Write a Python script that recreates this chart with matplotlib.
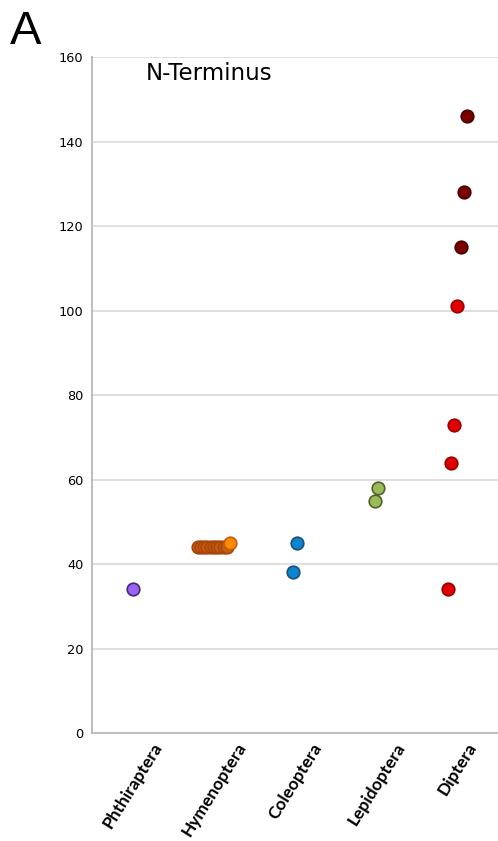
import matplotlib
matplotlib.use('Agg')
import matplotlib.pyplot as plt
import numpy as np

# Daten: Länge N-Terminus je Ordnung
categories = ['Phthiraptera', 'Hymenoptera', 'Coleoptera', 'Lepidoptera', 'Diptera']

phthiraptera = [34]
hymenoptera = [44, 44, 44, 44, 44, 44, 44, 44, 44, 44, 45]
coleoptera = [38, 45]
lepidoptera = [55, 58]
diptera = [34, 64, 73, 101, 115, 128, 146]

yticks = [0, 20, 40, 60, 80, 100, 120, 140, 160]

# Farben (Füllung, Rand) pro Punkt
phth_colors = ['#9A62F0']
hym_colors = ['#C55A11'] * 10 + ['#FF8A00']
col_colors = ['#0A86D0', '#0A86D0']
lep_colors = ['#9BBB59', '#9BBB59']
dip_colors = ['#E00000'] * 4 + ['#7A0000'] * 3

edge_map = {
    '#9A62F0': '#3D2A7A',
    '#C55A11': '#A8450A',
    '#FF8A00': '#C55A11',
    '#0A86D0': '#1F4E79',
    '#9BBB59': '#4F6228',
    '#E00000': '#9A0000',
    '#7A0000': '#4A0000',
}

groups = [
    (phthiraptera, phth_colors),
    (hymenoptera, hym_colors),
    (coleoptera, col_colors),
    (lepidoptera, lep_colors),
    (diptera, dip_colors),
]

fig = plt.figure(figsize=(4.98, 8.41), dpi=100)
ax = fig.add_axes([0.1847, 0.1284, 0.8153, 0.8038])

step = 0.04
for i, (vals, cols) in enumerate(groups):
    n = len(vals)
    xs = (i + 1) + (np.arange(n) - (n - 1) / 2) * step
    for x, v, c in zip(xs, vals, cols):
        ax.scatter(x, v, s=82, color=c, edgecolors=edge_map[c], linewidths=1.2, zorder=3)

ax.set_xlim(0.5, 5.5)
ax.set_ylim(0, 160)
ax.set_yticks(yticks)
ax.set_xticks(range(1, len(categories) + 1))
ax.set_xticklabels(categories, rotation=58, ha='center', va='top',
                   fontsize=12.5, fontweight='bold', family='Lato')
ax.tick_params(axis='both', length=0)
ax.tick_params(axis='y', labelsize=9.3, pad=6)
ax.tick_params(axis='x', pad=5)

ax.grid(axis='y', color='#D9D9D9', linewidth=1.2, zorder=0)
ax.set_axisbelow(True)
for side in ['top', 'right']:
    ax.spines[side].set_visible(False)
for side in ['left', 'bottom']:
    ax.spines[side].set_color('#BFBFBF')
    ax.spines[side].set_linewidth(1.5)

ax.text(0.133, 0.976, 'N-Terminus', transform=ax.transAxes, fontsize=16.5,
        ha='left', va='center')
fig.text(0.02, 0.962, 'A', fontsize=34, ha='left', va='center', family='Liberation Sans')

plt.savefig('out.png', dpi=100)
